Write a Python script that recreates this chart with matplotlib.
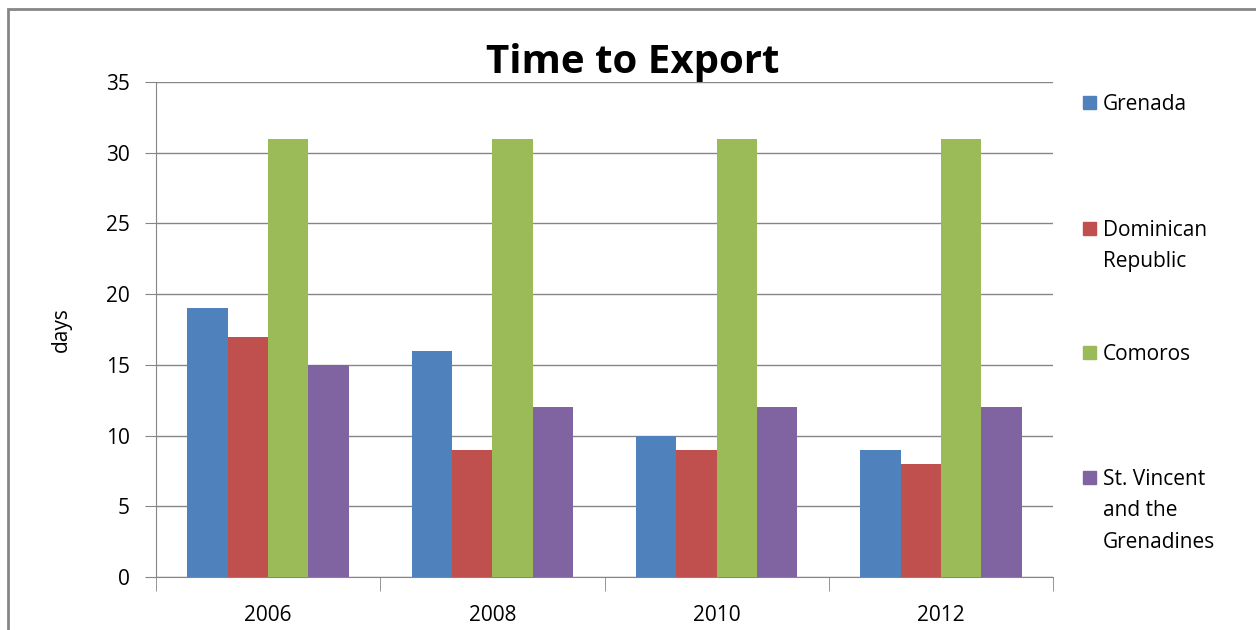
import numpy as np
import matplotlib
matplotlib.use("Agg")
import matplotlib.pyplot as plt
from matplotlib.patches import Rectangle

years = ["2006", "2008", "2010", "2012"]
countries = ["Grenada", "Dominican\nRepublic", "Comoros", "St. Vincent\nand the\nGrenadines"]
grenada = [19, 16, 10, 9]
dominican = [17, 9, 9, 8]
comoros = [31, 31, 31, 31]
st_vincent = [15, 12, 12, 12]
colors = ["#4F81BD", "#C0504D", "#9BBB59", "#8064A2"]

plt.rcParams['font.family'] = ['Open Sans', 'DejaVu Sans']

W, H = 1256, 630
fig = plt.figure(figsize=(W / 100, H / 100), dpi=100)

# outer chart border (runs off the right and bottom edges)
fig.patches.append(Rectangle((8 / W, -0.1), 1.2, 1 - 9 / H + 0.1, transform=fig.transFigure,
                             fill=False, edgecolor="#868686", linewidth=2))

left, right, top, bottom = 156, 1053, 82, 577
ax = fig.add_axes([left / W, 1 - bottom / H, (right - left) / W, (bottom - top) / H])

series = [grenada, dominican, comoros, st_vincent]
x = np.arange(len(years))
bw = 0.18
for i, vals in enumerate(series):
    ax.bar(x + (i - 1.5) * bw, vals, width=bw, color=colors[i], zorder=3)

ax.set_xlim(-0.5, len(years) - 0.5)
ax.set_ylim(0, 35)
ax.set_yticks(range(0, 36, 5))
ax.yaxis.grid(True, color="#868686", linewidth=1, zorder=0)
ax.set_xticks(x)
ax.set_xticklabels(years)
ax.set_xticks(np.arange(-0.5, len(years)), minor=True)
ax.tick_params(axis="x", which="major", length=0, pad=20, labelsize=15)
ax.tick_params(axis="x", which="minor", length=10, color="#868686")
ax.tick_params(axis="y", length=8, color="#868686", labelsize=15, pad=11)
for s in ["top", "right"]:
    ax.spines[s].set_visible(False)
for s in ["left", "bottom"]:
    ax.spines[s].set_color("#868686")

ax.set_ylabel("days", fontsize=15, labelpad=24)
fig.text(633 / W, 1 - 62 / H, "Time to Export", fontsize=29, fontweight="bold",
         ha="center", va="center")

# legend, placed like the Excel one
leg_y = [102, 228, 352, 477]
for lab, c, yy in zip(countries, colors, leg_y):
    fig.patches.append(Rectangle((1083 / W, 1 - (yy + 7) / H), 13 / W, 13 / H,
                                 transform=fig.transFigure, color=c))
    fig.text(1103 / W, 1 - (yy - 8) / H, lab, fontsize=15, ha="left", va="top",
             linespacing=1.65)

fig.savefig("out.png", dpi=100)
